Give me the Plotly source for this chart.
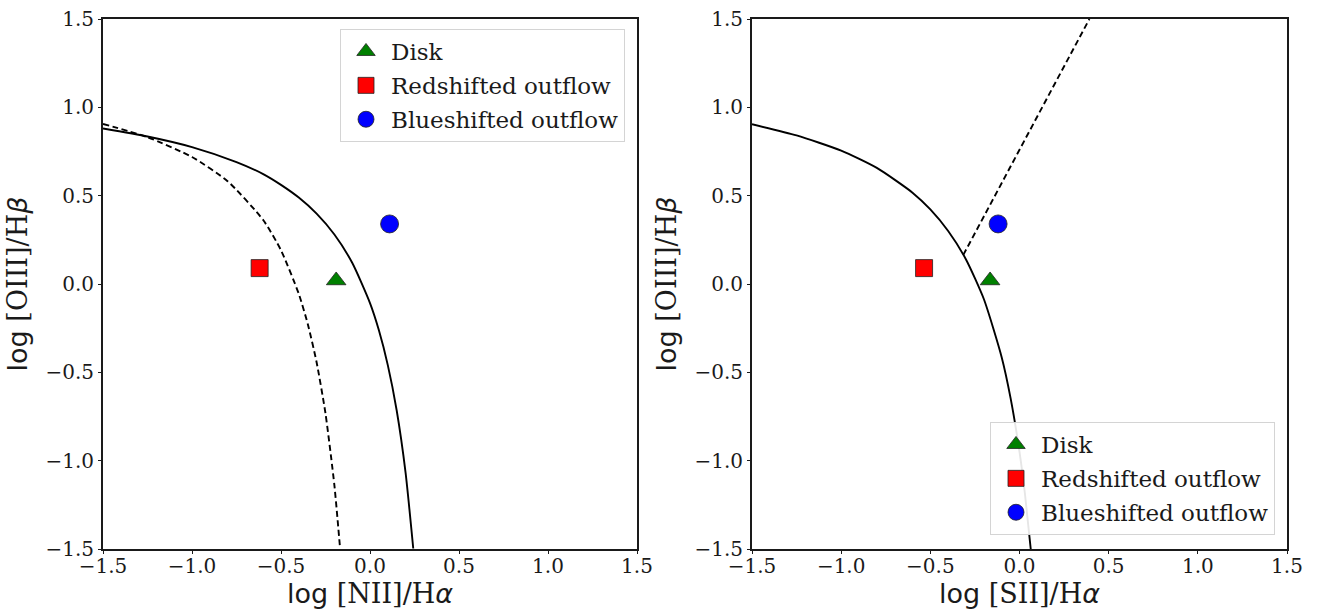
import plotly.graph_objects as go

# ---------------- data ----------------
series_names = ["Disk", "Redshifted outflow", "Blueshifted outflow"]

# left panel: log [NII]/Ha vs log [OIII]/Hb
nii_x = [-0.19, -0.62, 0.11]
nii_y = [0.02, 0.09, 0.34]

# right panel: log [SII]/Ha vs log [OIII]/Hb
sii_x = [-0.165, -0.535, -0.12]
sii_y = [0.02, 0.09, 0.34]

# solid demarcation curve, left panel
kew_nii_x = [-1.5, -1.25, -1.0, -0.75, -0.6, -0.5, -0.4, -0.3, -0.2, -0.1, 0.0, 0.05, 0.1, 0.15, 0.2, 0.243]
kew_nii_y = [0.880, 0.835, 0.775, 0.690, 0.622, 0.561, 0.489, 0.398, 0.280, 0.120, -0.108, -0.262, -0.459, -0.716, -1.069, -1.497]

# dashed demarcation curve, left panel
kau_nii_x = [-1.5, -1.25, -1.0, -0.8, -0.6, -0.5, -0.4, -0.35, -0.3, -0.25, -0.2, -0.168]
kau_nii_y = [0.906, 0.831, 0.719, 0.582, 0.362, 0.191, -0.056, -0.225, -0.443, -0.733, -1.14, -1.498]

# solid demarcation curve, right panel
kew_sii_x = [-1.5, -1.25, -1.0, -0.8, -0.6, -0.5, -0.4, -0.3, -0.2, -0.1, -0.05, 0.0, 0.03, 0.063]
kew_sii_y = [0.904, 0.841, 0.755, 0.657, 0.517, 0.422, 0.300, 0.139, -0.085, -0.414, -0.646, -0.950, -1.183, -1.50]

# dashed Seyfert/LINER line, right panel
sey_x = [-0.315, 0.392]
sey_y = [0.165, 1.50]

tick_vals = [-1.5, -1.0, -0.5, 0.0, 0.5, 1.0, 1.5]
tick_text = ["\u22121.5", "\u22121.0", "\u22120.5", "0.0", "0.5", "1.0", "1.5"]

# ---------------- styling ----------------
W, H = 1318, 612
SERIF = "DejaVu Serif"
symbols = ["triangle-up", "square", "circle"]
colors = ["#008000", "#ff0000", "#0000ff"]
sizes = [17, 17, 18]
INK = "#1a1a1a"

fig = go.Figure()

def add_curve(x, y, axis, dash, spline=True):
    fig.add_trace(go.Scatter(
        x=x, y=y, mode="lines",
        line=dict(color="black", width=1.9, dash=dash, shape="spline" if spline else "linear", smoothing=0.6),
        xaxis="x" + axis, yaxis="y" + axis, showlegend=False, hoverinfo="skip"))

add_curve(kau_nii_x, kau_nii_y, "", "6px,3.5px")
add_curve(kew_nii_x, kew_nii_y, "", "solid")
add_curve(kew_sii_x, kew_sii_y, "2", "solid")
add_curve(sey_x, sey_y, "2", "6px,3.5px", spline=False)

for i, name in enumerate(series_names):
    fig.add_trace(go.Scatter(
        x=[nii_x[i]], y=[nii_y[i]], mode="markers", name=name,
        marker=dict(symbol=symbols[i], color=colors[i], size=sizes[i], line=dict(color="#222222", width=0.8)),
        xaxis="x", yaxis="y", legend="legend", legendgroup="a%d" % i))
    fig.add_trace(go.Scatter(
        x=[sii_x[i]], y=[sii_y[i]], mode="markers", name=name,
        marker=dict(symbol=symbols[i], color=colors[i], size=sizes[i], line=dict(color="#222222", width=0.8)),
        xaxis="x2", yaxis="y2", legend="legend2", legendgroup="b%d" % i))

def px_x(p):
    return p / W

def px_y(p):
    return 1 - p / H

axis_common = dict(
    range=[-1.5, 1.5], tickvals=tick_vals, ticktext=tick_text,
    showgrid=False, zeroline=False, showline=True, mirror=True,
    linecolor=INK, linewidth=2, ticks="outside", ticklen=3, tickwidth=1,
    tickcolor=INK, tickfont=dict(family=SERIF, size=20, color=INK),
    automargin=False,
)

def title(txt):
    return dict(text=txt, font=dict(family=SERIF, size=27, color=INK))

SANS_SPAN = '<span style="font-family:DejaVu Sans">'
xlab1 = SANS_SPAN + 'log</span> [NII]/H' + SANS_SPAN + '<i>\u03b1</i></span>'
xlab2 = SANS_SPAN + 'log</span> [SII]/H' + SANS_SPAN + '<i>\u03b1</i></span>'
ylab = SANS_SPAN + 'log</span> [OIII]/H' + SANS_SPAN + '<i>\u03b2</i></span>'

legend_common = dict(
    bgcolor="rgba(255,255,255,0.9)", bordercolor="#d4d4d4", borderwidth=1,
    font=dict(family=SERIF, size=23, color=INK), tracegroupgap=1, itemwidth=40,
)

ydom = [px_y(549), px_y(19)]
fig.update_layout(
    width=W, height=H, margin=dict(l=0, r=0, t=0, b=0),
    paper_bgcolor="white", plot_bgcolor="white",
    font=dict(family=SERIF, color=INK),
    xaxis=dict(axis_common, domain=[px_x(103), px_x(637)], anchor="y", ticklabelstandoff=-5,
               title=dict(title(xlab1), standoff=2)),
    yaxis=dict(axis_common, domain=ydom, anchor="x", title=dict(title(ylab), standoff=10)),
    xaxis2=dict(axis_common, domain=[px_x(752), px_x(1287)], anchor="y2", ticklabelstandoff=-5,
                title=dict(title(xlab2), standoff=2)),
    yaxis2=dict(axis_common, domain=ydom, anchor="x2", title=dict(title(ylab), standoff=10)),
    legend=dict(legend_common, x=px_x(625), y=px_y(29), xanchor="right", yanchor="top"),
    legend2=dict(legend_common, x=px_x(1275), y=px_y(535), xanchor="right", yanchor="bottom"),
    showlegend=True,
)

fig.write_html("out.html")
